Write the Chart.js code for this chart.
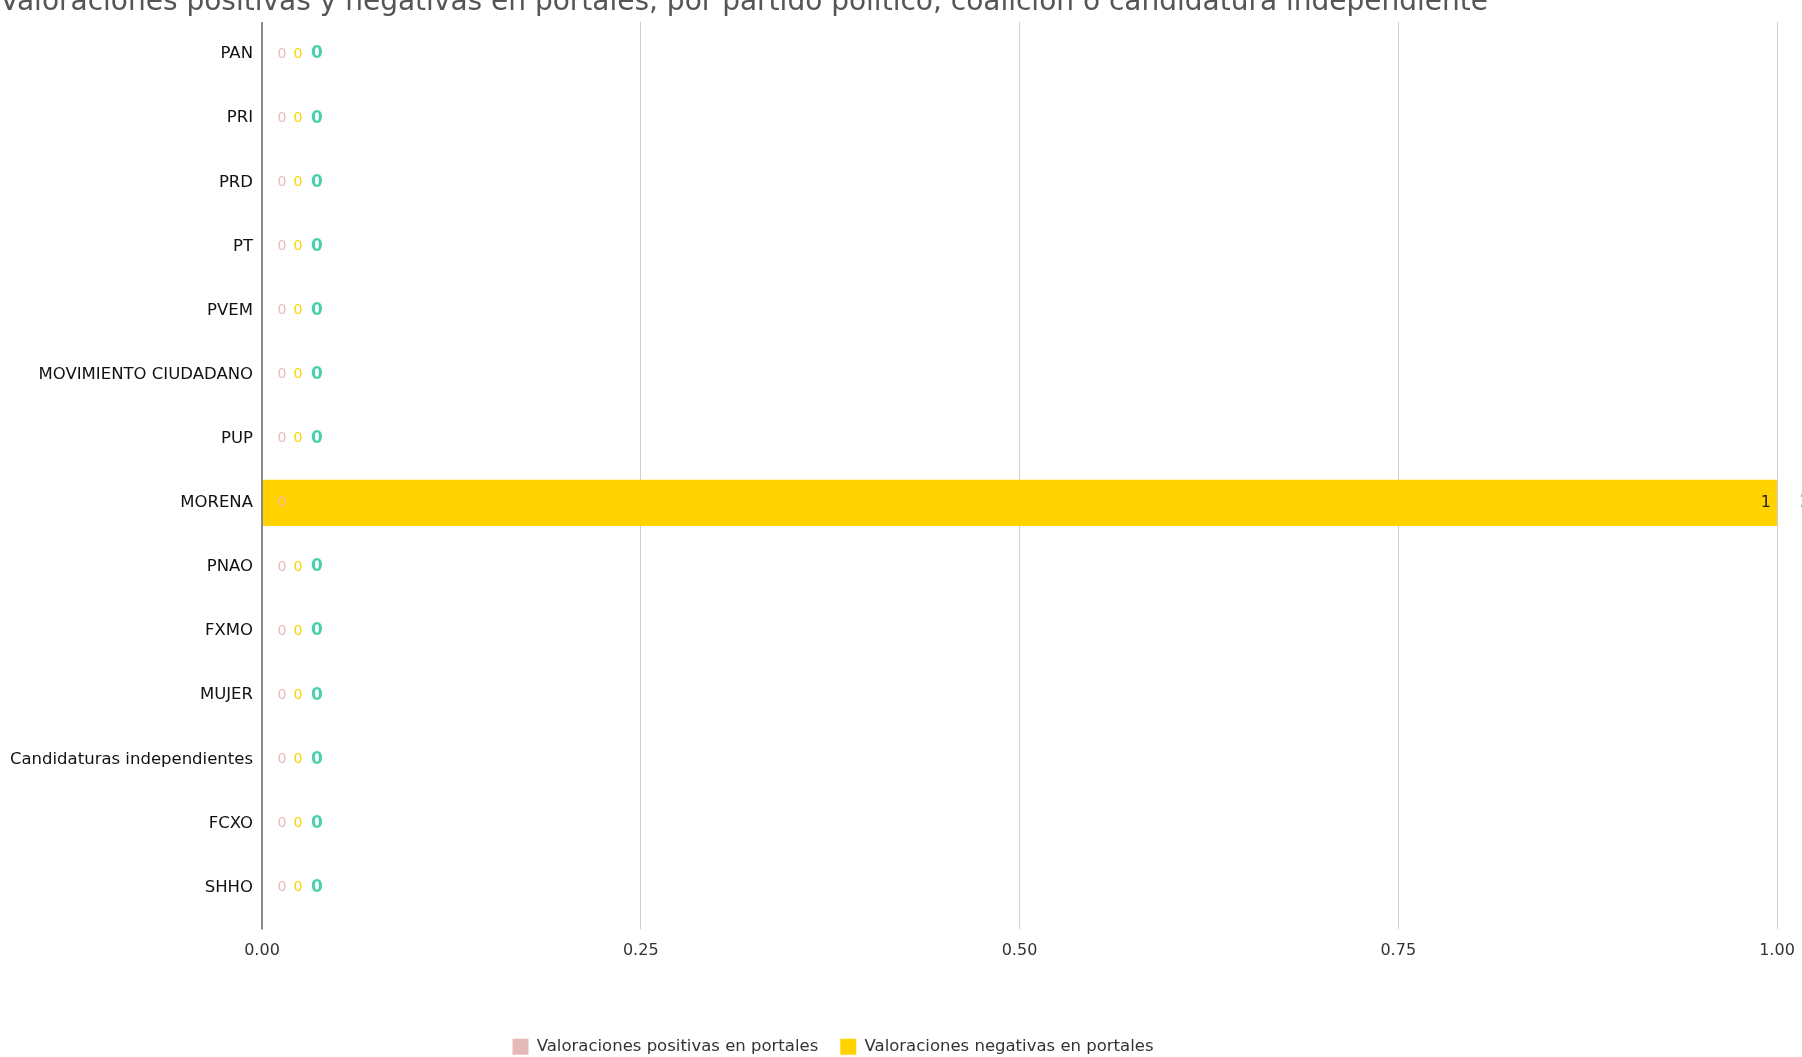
<!DOCTYPE html>
<html>
<head>
<meta charset="utf-8">
<script src="https://cdn.jsdelivr.net/npm/chart.js@4"></script>
<style>
  html, body { margin: 0; padding: 0; background: #fff; }
  #wrap { width: 1802px; height: 1057px; }
</style>
</head>
<body>
<div id="wrap"><canvas id="portales"></canvas></div>
<script>
const partidos = ['PAN', 'PRI', 'PRD', 'PT', 'PVEM', 'MOVIMIENTO CIUDADANO', 'PUP', 'MORENA',
  'PNAO', 'FXMO', 'MUJER', 'Candidaturas independientes', 'FCXO', 'SHHO']
const positivas = [0, 0, 0, 0, 0, 0, 0, 0, 0, 0, 0, 0, 0, 0]
const negativas = [0, 0, 0, 0, 0, 0, 0, 1, 0, 0, 0, 0, 0, 0]
const totales = [0, 0, 0, 0, 0, 0, 0, 1, 0, 0, 0, 0, 0, 0]
const xTicks = [0, 0.25, 0.5, 0.75, 1]

const FONT = 'DejaVu Sans, Verdana, sans-serif'

// draws the small value labels next to / inside the bars
const valueLabels = {
  id: 'valueLabels',
  afterDatasetsDraw(chart) {
    const ctx = chart.ctx
    const xs = chart.scales.x
    const ys = chart.scales.y
    const x0 = xs.getPixelForValue(0)
    ctx.save()
    ctx.textBaseline = 'middle'
    partidos.forEach((p, i) => {
      const y = ys.getPixelForValue(i)
      ctx.font = '14px ' + FONT
      ctx.textAlign = 'center'
      ctx.fillStyle = negativas[i] > 0 ? '#f2b99a' : '#eeb9bb'
      ctx.fillText(String(positivas[i]), x0 + 20, y)

      if (negativas[i] > 0) {
        ctx.font = '16px ' + FONT
        ctx.textAlign = 'right'
        ctx.fillStyle = '#222'
        ctx.fillText(String(negativas[i]), xs.getPixelForValue(positivas[i] + negativas[i]) - 6, y)
      } else {
        ctx.fillStyle = '#ffd200'
        ctx.fillText('0', x0 + 36, y)
      }

      ctx.font = 'bold 17px ' + FONT
      ctx.textAlign = 'center'
      ctx.fillStyle = '#4ccfae'
      const tx = totales[i] > 0 ? xs.getPixelForValue(totales[i]) + 28 : x0 + 55
      ctx.fillText(String(totales[i]), tx, y)
    })
    ctx.restore()
  }
}

// nudges title and legend sideways like in the original layout
const shiftBoxes = {
  id: 'shiftBoxes',
  afterLayout(chart) {
    const t = chart.titleBlock
    t.left = 2 * 744 - t.right
    const l = chart.legend
    l.left = 2 * 833 - l.right
  }
}

const ctx = document.getElementById('portales').getContext('2d')

new Chart(ctx, {
  type: 'bar',
  data: {
    labels: partidos,
    datasets: [{
      label: 'Valoraciones positivas en portales',
      data: positivas,
      backgroundColor: '#e6b8b8',
      borderWidth: 0
    }, {
      label: 'Valoraciones negativas en portales',
      data: negativas,
      backgroundColor: '#ffd200',
      borderWidth: 0
    }]
  },
  plugins: [valueLabels, shiftBoxes],
  options: {
    indexAxis: 'y',
    responsive: true,
    maintainAspectRatio: false,
    animation: false,
    layout: { padding: { right: 25, bottom: -8 } },
    scales: {
      x: {
        stacked: true,
        min: 0,
        max: 1,
        afterBuildTicks: (s) => { s.ticks = xTicks.map(v => ({ value: v })) },
        afterFit: (s) => {
          s.height = 97
          s.paddingLeft = 0
          s.paddingRight = 0
        },
        grid: {
          color: (c) => c.index === 0 ? '#888' : '#cfcfcf',
          lineWidth: (c) => c.index === 0 ? 2 : 1,
          tickLength: 10
        },
        border: { display: false },
        ticks: {
          padding: 12,
          color: '#333',
          font: { family: FONT, size: 16 },
          callback: (v) => Number(v).toFixed(2)
        }
      },
      y: {
        stacked: true,
        afterFit: (s) => { s.width = 262 },
        grid: { display: false, drawTicks: false },
        border: { display: false },
        ticks: {
          padding: 9,
          color: '#111',
          font: { family: FONT, size: 16.5 }
        }
      }
    },
    plugins: {
      title: {
        display: true,
        text: 'Valoraciones positivas y negativas en portales, por partido político, coalición o candidatura independiente',
        color: '#555',
        font: { family: FONT, size: 28, weight: 'normal' },
        padding: { top: -14, bottom: 2.4 }
      },
      legend: {
        position: 'bottom',
        labels: {
          boxWidth: 16,
          boxHeight: 16,
          padding: 22,
          color: '#333',
          font: { family: FONT, size: 16.5 }
        }
      },
      tooltip: { enabled: false }
    }
  }
})
</script>
</body>
</html>
